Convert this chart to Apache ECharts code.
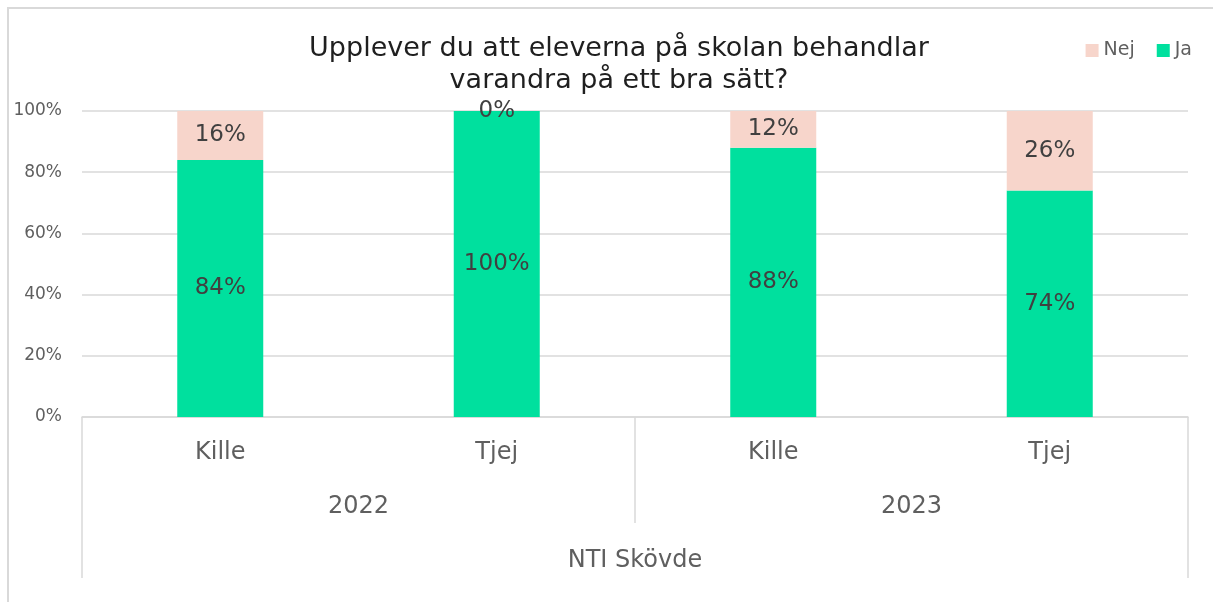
<!DOCTYPE html>
<html>
<head>
<meta charset="utf-8">
<script src="https://cdn.jsdelivr.net/npm/echarts@6/dist/echarts.min.js"></script>
<style>
  html, body { margin: 0; padding: 0; background: #fff; }
  #frame { position: absolute; left: 7px; top: 7px; width: 1206px; height: 595px;
           border-left: 2px solid #d9d9d9; border-top: 2px solid #d9d9d9; box-sizing: border-box; }
  #chart { position: absolute; left: 0; top: 0; width: 1213px; height: 602px; }
</style>
</head>
<body>
<div id="frame"></div>
<div id="chart"></div>
<script>
// Survey answers per gender and year (share of respondents)
const genders = ['Kille', 'Tjej', 'Kille', 'Tjej'];
const years = ['2022', '2023'];
const school = ['NTI Skövde'];
const jaValues = [0.84, 1.00, 0.88, 0.74];
const nejValues = [0.16, 0.00, 0.12, 0.26];
const yTicks = [0, 0.2, 0.4, 0.6, 0.8, 1.0];

const FONT = '"DejaVu Sans", Lato, sans-serif';
const GRID_LINE = '#d9d9d9';
const AXIS_TEXT = '#5f5f5f';

const chart = echarts.init(document.getElementById('chart'), null, { renderer: 'canvas' });

const pct = v => Math.round(v * 100) + '%';

chart.setOption({
  animation: false,
  textStyle: { fontFamily: FONT },
  title: {
    text: 'Upplever du att eleverna på skolan behandlar\nvarandra på ett bra sätt?',
    left: 614, top: 28, textAlign: 'center',
    textStyle: { fontFamily: FONT, fontSize: 27, fontWeight: 'normal', color: '#1f1f1f', lineHeight: 32 }
  },
  legend: {
    right: 16, top: 36, itemWidth: 13, itemHeight: 13, itemGap: 22,
    icon: 'rect',
    textStyle: { fontFamily: FONT, fontSize: 19, color: AXIS_TEXT },
    data: ['Nej', 'Ja']
  },
  grid: { left: 82, right: 25, top: 111, bottom: 185 },
  yAxis: {
    type: 'value', min: 0, max: 1, interval: 0.2,
    axisLine: { show: false }, axisTick: { show: false },
    axisLabel: { formatter: v => yTicks.includes(+v.toFixed(1)) ? pct(v) : '', margin: 20,
                 fontFamily: FONT, fontSize: 17, color: AXIS_TEXT },
    splitLine: { lineStyle: { color: GRID_LINE, width: 1.5 } }
  },
  xAxis: [
    {
      type: 'category', data: genders, position: 'bottom',
      axisLine: { lineStyle: { color: GRID_LINE, width: 1.5 } },
      axisTick: { show: false },
      axisLabel: { margin: 24, fontFamily: FONT, fontSize: 24, color: AXIS_TEXT }
    },
    {
      type: 'category', data: years, position: 'bottom', gridIndex: 0,
      axisLine: { show: false },
      axisTick: { show: true, length: 106, alignWithLabel: false, lineStyle: { color: GRID_LINE, width: 1.5 } },
      axisLabel: { margin: 78, fontFamily: FONT, fontSize: 24, color: AXIS_TEXT }
    },
    {
      type: 'category', data: school, position: 'bottom', gridIndex: 0,
      axisLine: { show: false },
      axisTick: { show: true, length: 161, alignWithLabel: false, lineStyle: { color: GRID_LINE, width: 1.5 } },
      axisLabel: { margin: 132, fontFamily: FONT, fontSize: 24, color: AXIS_TEXT }
    }
  ],
  series: [
    {
      name: 'Ja', type: 'bar', stack: 'total', xAxisIndex: 0, barWidth: 86,
      itemStyle: { color: '#00E09E' },
      label: { show: true, position: 'inside', formatter: p => pct(p.value),
               fontFamily: FONT, fontSize: 23, color: '#404040' },
      data: jaValues
    },
    {
      name: 'Nej', type: 'bar', stack: 'total', xAxisIndex: 0, barWidth: 86,
      itemStyle: { color: '#F7D5CB' },
      label: { show: true, position: 'inside', formatter: p => pct(p.value),
               fontFamily: FONT, fontSize: 23, color: '#404040' },
      data: nejValues
    }
  ]
});
</script>
</body>
</html>
